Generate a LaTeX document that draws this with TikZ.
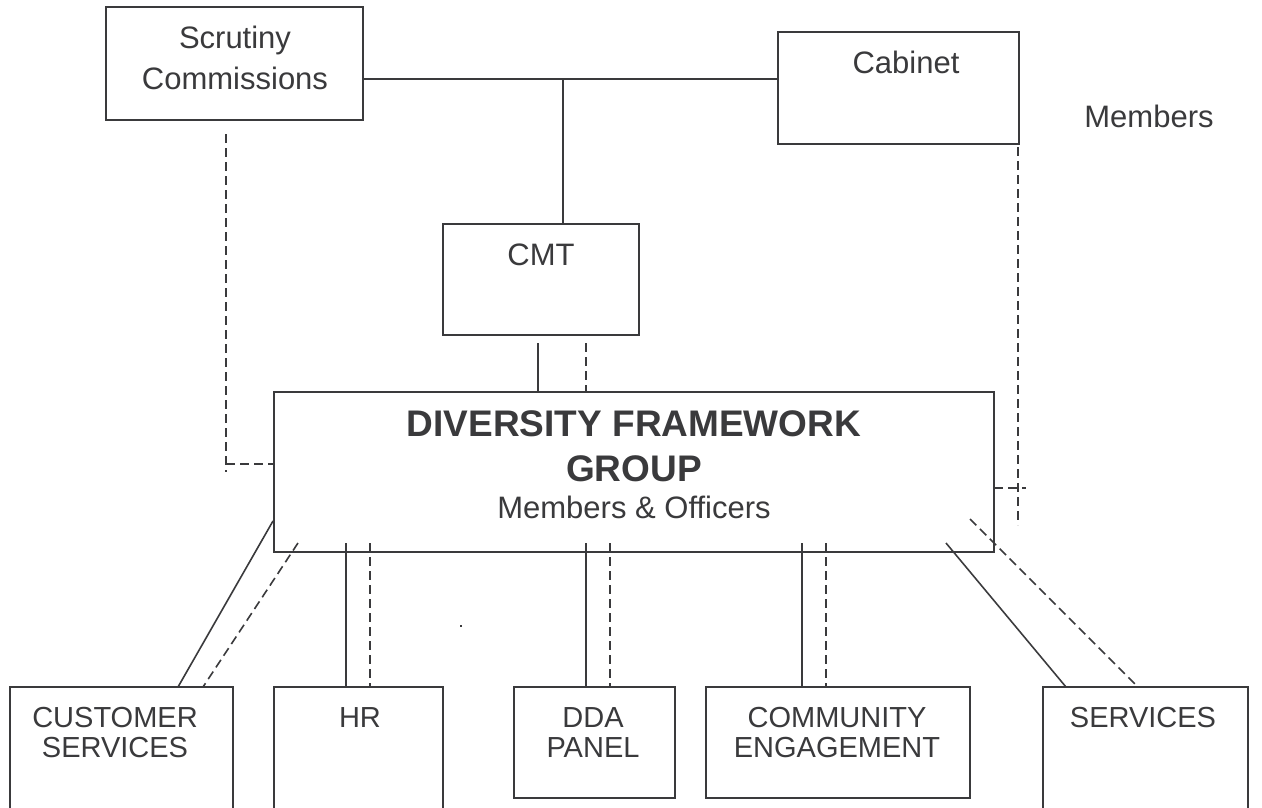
\documentclass[tikz,border=0pt]{standalone}
\usepackage{fontspec}
\setmainfont{Liberation Sans}
\usetikzlibrary{calc}
\definecolor{ink}{HTML}{3A3A3C}
\newcommand\mkbox[5]{\node[box,anchor=north west,minimum width={(#4-#2)*1pt},minimum height={(#5-#3)*1pt}] (#1) at (#2,#3) {};}
\begin{document}
\begin{tikzpicture}[x=1pt,y=-1pt,
  box/.style={draw=ink, line width=2pt, inner sep=0pt, outer sep=0pt},
  conn/.style={draw=ink, line width=1.6pt},
  dconn/.style={conn, dash pattern=on 9pt off 5pt},
  lbl/.style={text=ink, inner sep=0pt, anchor=base, align=center, font=\fontsize{31}{41}\selectfont},
  small/.style={lbl, font=\fontsize{29}{30}\selectfont},
  big/.style={lbl, font=\bfseries\fontsize{37}{45}\selectfont}]
\useasboundingbox (0,0) rectangle (1262,807);
\fill[white] (0,0) rectangle (1262,807);

% boxes
\mkbox{scr}{106}{7}{363}{120}
\mkbox{cab}{778}{32}{1019}{144}
\mkbox{cmt}{443}{224}{639}{335}
\mkbox{dfg}{274}{392}{994}{552}
\mkbox{cs}{10}{687}{233}{820}
\mkbox{hr}{274}{687}{443}{820}
\mkbox{dda}{514}{687}{675}{798}
\mkbox{com}{706}{687}{970}{798}
\mkbox{srv}{1043}{687}{1248}{820}

% labels
\node[lbl] (scrt) at (235,48) {Scrutiny};
\node[lbl] (scrt2) at (235,89) {Commissions};
\node[lbl] (cabt) at (906,73) {Cabinet};
\node[lbl] (memt) at (1149,127) {Members};
\node[lbl] (cmtt) at (541,265) {CMT};
\node[big] (dfg1) at (634,436) {DIVERSITY FRAMEWORK};
\node[big] (dfg2) at (634,481) {GROUP};
\node[lbl] (dfg3) at (634,518) {Members \& Officers};
\node[small] (cst1) at (115,727) {CUSTOMER};
\node[small] (cst2) at (115,757) {SERVICES};
\node[small] (hrt) at (360,727) {HR};
\node[small] (ddat1) at (593,727) {DDA};
\node[small] (ddat2) at (593,757) {PANEL};
\node[small] (comt1) at (837,727) {COMMUNITY};
\node[small] (comt2) at (837,757) {ENGAGEMENT};
\node[small] (srvt) at (1143,727) {SERVICES};

% connectors top
\coordinate (j) at (563,79);
\draw[conn] (scr.east |- j) -- (cab.west |- j);
\draw[conn] (j) -- (cmt.north -| j);
\draw[conn] ($(cmt.south -| 538,0)+(0,8)$) -- (dfg.north -| 538,0);
\draw[dconn] ($(cmt.south -| 586,0)+(0,8)$) -- (dfg.north -| 586,0);

% side dashed links
\coordinate (sd) at (226,472);
\draw[dconn] ($(scr.south -| sd)+(0,14)$) -- (sd);
\draw[dconn] (226,464) -- (dfg.west |- 0,464);
\coordinate (cd) at (1018,525);
\draw[dconn] ($(cab.south -| cd)+(0,3)$) -- (cd);
\draw[dconn] (dfg.east |- 0,488) -- (1026,488);

% bottom connectors
\draw[conn] (273,521) -- (cs.north -| 178,0);
\draw[dconn] (298,543) -- (cs.north -| 203,0);
\draw[conn] (346,543) -- (hr.north -| 346,0);
\draw[dconn] (370,543) -- (hr.north -| 370,0);
\draw[conn] (586,543) -- (dda.north -| 586,0);
\draw[dconn] (610,543) -- (dda.north -| 610,0);
\draw[conn] (802,543) -- (com.north -| 802,0);
\draw[dconn] (826,543) -- (com.north -| 826,0);
\draw[conn] (946,543) -- (srv.north -| 1066,0);
\draw[dconn] (970,519) -- (srv.north -| 1138,0);

% stray dot
\fill[ink] (460,625) rectangle (462,627);
\end{tikzpicture}
\end{document}
